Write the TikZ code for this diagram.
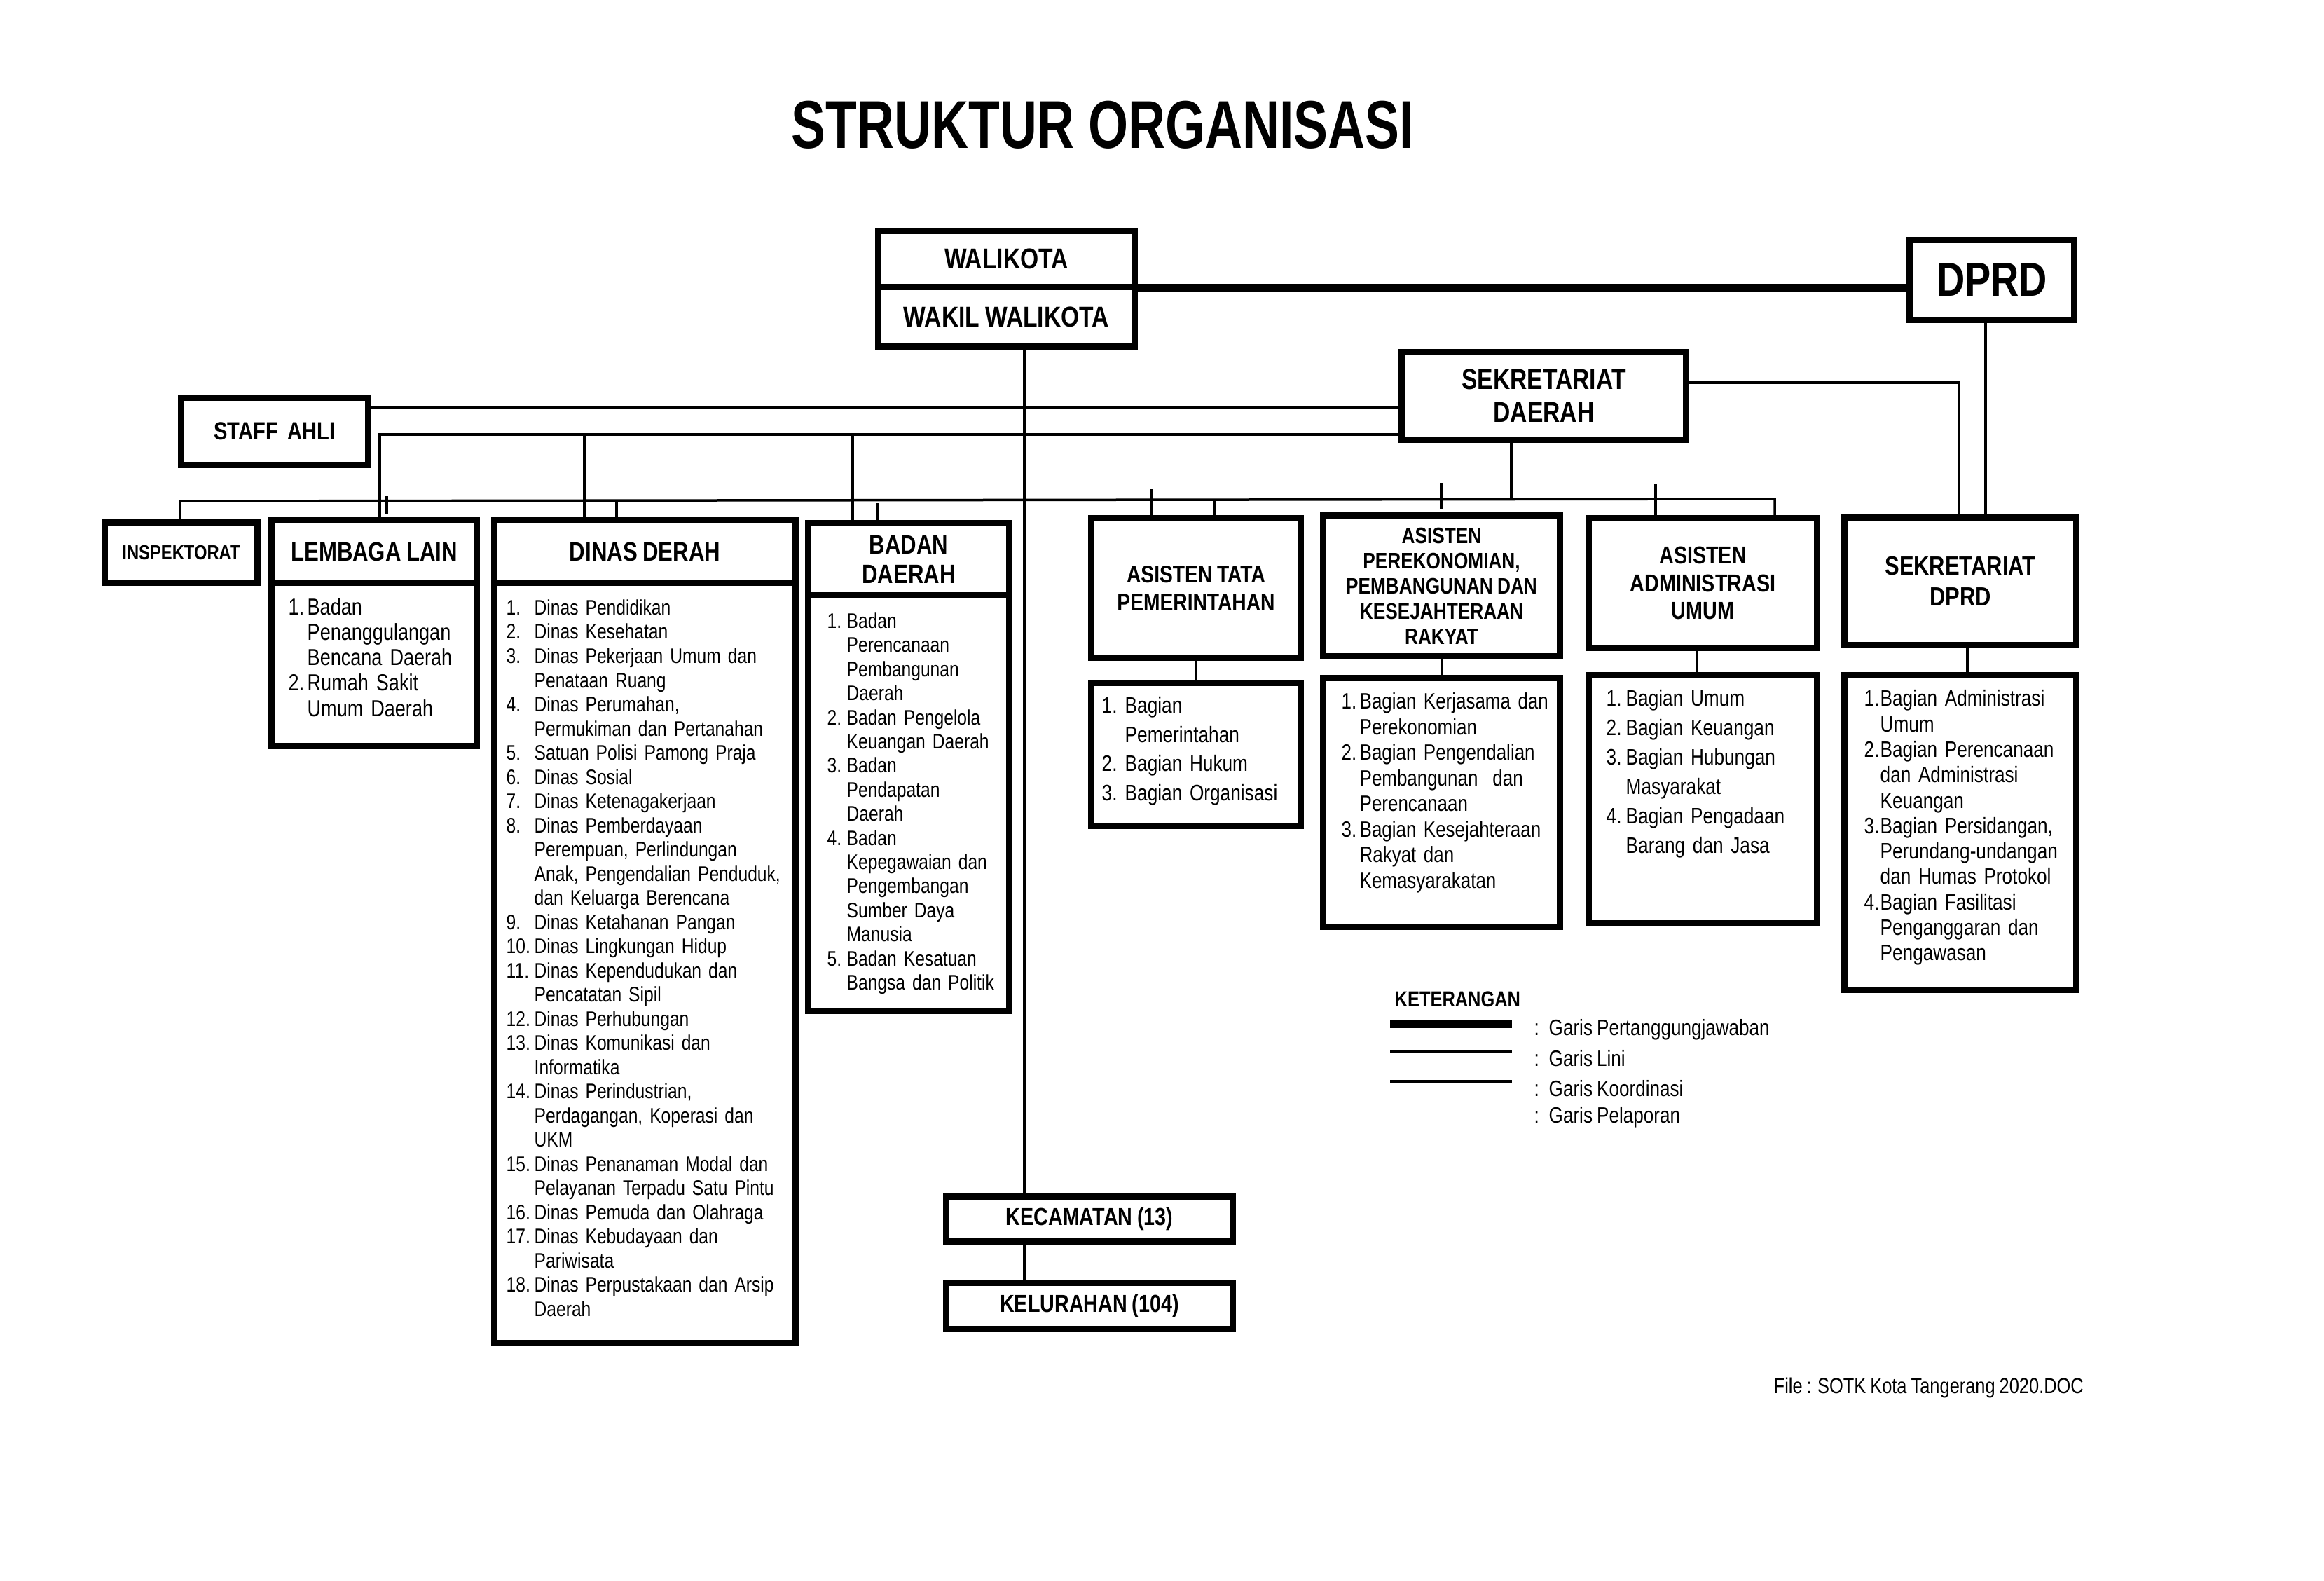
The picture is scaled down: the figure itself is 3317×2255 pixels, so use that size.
\documentclass[tikz,border=0pt]{standalone}
\usepackage{fontspec}
\setmainfont{Liberation Sans}
\newfontfamily\nf[FakeStretch=0.82,WordSpace=0.85]{Liberation Sans}
\newfontfamily\tf[FakeStretch=0.76]{Liberation Sans}
\newlength\nbw
\newcommand\nb[1]{\makebox[\nbw][l]{#1}}
\newcommand\cn{\hspace*{\nbw}}
\newcommand\fsz[2]{\fontsize{#1pt}{#2pt}\selectfont}
\begin{document}
\begin{tikzpicture}[x=0.1mm,y=-0.1mm,
  bx/.style={draw, line width=0.9mm, inner sep=0pt, align=center},
  ln/.style={line width=0.35mm},
  resp/.style={line width=1.2mm},
  lst/.style={anchor=north west, inner sep=0pt, align=left, text width=#1},
]
\useasboundingbox (0,0) rectangle (3317,2255);

% title
\node[font=\tf\bfseries\fsz{27.46}{30}] (title) at (1574,178) {STRUKTUR ORGANISASI};

% top boxes
\node[bx, minimum width=36.6mm, minimum height=8.0mm, font=\nf\bfseries\fsz{11.67}{13}] (walikota) at (1436.5,369.5) {WALIKOTA};
\node[bx, minimum width=36.6mm, minimum height=8.5mm, font=\nf\bfseries\fsz{11.67}{13}] (wakil) at (1436.5,452) {WAKIL WALIKOTA};
\node[bx, minimum width=23.5mm, minimum height=11.4mm, font=\nf\bfseries\fsz{19.35}{21}] (dprd) at (2843,399.5) {DPRD};
\node[bx, minimum width=40.6mm, minimum height=12.5mm, font=\nf\bfseries\fsz{11.67}{13.37}] (sekda) at (2203.5,565) {SEKRETARIAT\\DAERAH};
\node[bx, minimum width=26.7mm, minimum height=9.6mm, font=\nf\bfseries\fsz{10.1}{12}] (staff) at (392,615.5) {STAFF\ \ AHLI};

% second row
\node[bx, minimum width=21.8mm, minimum height=8.6mm, font=\nf\bfseries\fsz{8.25}{10}] (insp) at (258.5,788.5) {INSPEKTORAT};
\node[bx, minimum width=29.3mm, minimum height=8.9mm, font=\nf\bfseries\fsz{10.81}{12}] (lembaga) at (534,787) {LEMBAGA LAIN};
\node[bx, minimum width=29.3mm, minimum height=23.3mm] (lembagabody) at (534,948) {};
\node[bx, minimum width=43.0mm, minimum height=8.9mm, font=\nf\bfseries\fsz{10.81}{12}] (dinas) at (920.5,787) {DINAS DERAH};
\node[bx, minimum width=43.0mm, minimum height=108.5mm] (dinasbody) at (920.5,1374) {};
\node[bx, minimum width=28.7mm, minimum height=10.3mm, font=\nf\bfseries\fsz{10.81}{11.95}] (badan) at (1297,798) {BADAN\\DAERAH};
\node[bx, minimum width=28.7mm, minimum height=59.3mm] (badanbody) at (1297,1146) {};

\node[bx, minimum width=29.9mm, minimum height=19.9mm, font=\nf\bfseries\fsz{9.79}{11.38}] (tata) at (1707,839) {ASISTEN TATA\\PEMERINTAHAN};
\node[bx, minimum width=29.9mm, minimum height=20.4mm] (tatasub) at (1707,1076.5) {};
\node[bx, minimum width=33.8mm, minimum height=20.1mm, font=\nf\bfseries\fsz{9.1}{10.24}] (eko) at (2057.5,836) {ASISTEN\\PEREKONOMIAN,\\PEMBANGUNAN DAN\\KESEJAHTERAAN\\RAKYAT};
\node[bx, minimum width=33.8mm, minimum height=35.5mm] (ekosub) at (2057.5,1145) {};
\node[bx, minimum width=32.6mm, minimum height=18.5mm, font=\nf\bfseries\fsz{9.96}{11.24}] (admin) at (2430.5,832) {ASISTEN\\ADMINISTRASI\\UMUM};
\node[bx, minimum width=32.6mm, minimum height=35.4mm] (adminsub) at (2430.5,1140.5) {};
\node[bx, minimum width=33.1mm, minimum height=18.2mm, font=\nf\bfseries\fsz{10.73}{12.52}] (sekdprd) at (2798,829.5) {SEKRETARIAT\\DPRD};
\node[bx, minimum width=33.1mm, minimum height=44.9mm] (sekdprdsub) at (2798,1188) {};

\node[bx, minimum width=40.9mm, minimum height=6.4mm, font=\nf\bfseries\fsz{9.96}{11}] (kec) at (1555,1739.5) {KECAMATAN (13)};
\node[bx, minimum width=40.9mm, minimum height=6.6mm, font=\nf\bfseries\fsz{9.96}{11}] (kel) at (1555,1863.5) {KELURAHAN (104)};

% lists
\node[lst=40mm, font=\nf\fsz{9.39}{10.27}\setlength\nbw{2.7mm}] (lembagalist) at (411,853)
 {\nb{1.}Badan\\\cn Penanggulangan\\\cn Bencana Daerah\\\nb{2.}Rumah Sakit\\\cn Umum Daerah};
\node[lst=50mm, font=\nf\fsz{8.54}{9.82}\setlength\nbw{4.0mm}] (dinaslist) at (722,855)
 {\nb{1.}Dinas Pendidikan\\
  \nb{2.}Dinas Kesehatan\\
  \nb{3.}Dinas Pekerjaan Umum dan\\\cn Penataan Ruang\\
  \nb{4.}Dinas Perumahan,\\\cn Permukiman dan Pertanahan\\
  \nb{5.}Satuan Polisi Pamong Praja\\
  \nb{6.}Dinas Sosial\\
  \nb{7.}Dinas Ketenagakerjaan\\
  \nb{8.}Dinas Pemberdayaan\\\cn Perempuan, Perlindungan\\\cn Anak, Pengendalian Penduduk,\\\cn dan Keluarga Berencana\\
  \nb{9.}Dinas Ketahanan Pangan\\
  \nb{10.}Dinas Lingkungan Hidup\\
  \nb{11.}Dinas Kependudukan dan\\\cn Pencatatan Sipil\\
  \nb{12.}Dinas Perhubungan\\
  \nb{13.}Dinas Komunikasi dan\\\cn Informatika\\
  \nb{14.}Dinas Perindustrian,\\\cn Perdagangan, Koperasi dan\\\cn UKM\\
  \nb{15.}Dinas Penanaman Modal dan\\\cn Pelayanan Terpadu Satu Pintu\\
  \nb{16.}Dinas Pemuda dan Olahraga\\
  \nb{17.}Dinas Kebudayaan dan\\\cn Pariwisata\\
  \nb{18.}Dinas Perpustakaan dan Arsip\\\cn Daerah};
\node[lst=40mm, font=\nf\fsz{8.54}{9.79}\setlength\nbw{2.8mm}] (badanlist) at (1180,874)
 {\nb{1.}Badan\\\cn Perencanaan\\\cn Pembangunan\\\cn Daerah\\
  \nb{2.}Badan Pengelola\\\cn Keuangan Daerah\\
  \nb{3.}Badan\\\cn Pendapatan\\\cn Daerah\\
  \nb{4.}Badan\\\cn Kepegawaian dan\\\cn Pengembangan\\\cn Sumber Daya\\\cn Manusia\\
  \nb{5.}Badan Kesatuan\\\cn Bangsa dan Politik};
\node[lst=40mm, font=\nf\fsz{9.1}{11.81}\setlength\nbw{3.3mm}] (tatalist) at (1572,994)
 {\nb{1.}Bagian\\\cn Pemerintahan\\\nb{2.}Bagian Hukum\\\nb{3.}Bagian Organisasi};
\node[lst=40mm, font=\nf\fsz{9.0}{10.39}\setlength\nbw{2.6mm}] (ekolist) at (1914,988)
 {\nb{1.}Bagian Kerjasama dan\\\cn Perekonomian\\
  \nb{2.}Bagian Pengendalian\\\cn Pembangunan\ \ dan\\\cn Perencanaan\\
  \nb{3.}Bagian Kesejahteraan\\\cn Rakyat dan\\\cn Kemasyarakatan};
\node[lst=40mm, font=\nf\fsz{9.1}{11.95}\setlength\nbw{2.8mm}] (adminlist) at (2292,984)
 {\nb{1.}Bagian Umum\\\nb{2.}Bagian Keuangan\\\nb{3.}Bagian Hubungan\\\cn Masyarakat\\
  \nb{4.}Bagian Pengadaan\\\cn Barang dan Jasa};
\node[lst=40mm, font=\nf\fsz{9.08}{10.33}\setlength\nbw{2.3mm}] (sekdprdlist) at (2660,984)
 {\nb{1.}Bagian Administrasi\\\cn Umum\\
  \nb{2.}Bagian Perencanaan\\\cn dan Administrasi\\\cn Keuangan\\
  \nb{3.}Bagian Persidangan,\\\cn Perundang-undangan\\\cn dan Humas Protokol\\
  \nb{4.}Bagian Fasilitasi\\\cn Penganggaran dan\\\cn Pengawasan};

% helper coordinates
\coordinate (yR) at (0,411);
\coordinate (ySD) at (0,546);
\coordinate (ySA) at (0,582);
\coordinate (yB) at (0,620);
\coordinate (yBus) at (0,713);
\coordinate (xV) at (1462,0);
\coordinate (xD) at (2834,0);
\coordinate (xS) at (2796,0);
\coordinate (xL) at (542,0);
\coordinate (xK) at (2157,0);
\coordinate (bL) at (257,715);
\coordinate (bR) at (2533,712);
\coordinate (t1a) at (552,708);
\coordinate (t1b) at (552,733);
\coordinate (xDa) at (834,0);
\coordinate (xDb) at (880,0);
\coordinate (xBa) at (1217,0);
\coordinate (xBb) at (1253,718);
\coordinate (xTa) at (1644,698);
\coordinate (xTb) at (1733,0);
\coordinate (xEa) at (2057,689);
\coordinate (xEb) at (2057,726);
\coordinate (xAa) at (2363,691);
\coordinate (xAd) at (2422,0);
\coordinate (xSd) at (2808,0);

% connectors
\draw[resp] (walikota.east |- yR) -- (dprd.west |- yR);
\draw[ln] (wakil.south -| xV) -- (kec.north -| xV);
\draw[ln] (kec.south -| xV) -- (kel.north -| xV);
\draw[ln] (dprd.south -| xD) -- (sekdprd.north -| xD);
\draw[ln] (sekda.east |- ySD) -- (xS |- ySD) -- (sekdprd.north -| xS);
\draw[ln] (staff.east |- ySA) -- (sekda.west |- ySA);
\draw[ln] (sekda.west |- yB) -- (xL |- yB) -- (lembaga.north -| xL);
\draw[ln] (xDa |- yB) -- (dinas.north -| xDa);
\draw[ln] (xBa |- yB) -- (badan.north -| xBa);
\draw[ln] (sekda.south -| xK) -- (xK |- yBus);
\draw[ln] (insp.north -| bL) -- (bL) -- (bR) -- (admin.north -| bR);
\draw[ln] (t1a) -- (t1b);
\draw[ln] (xDb |- yBus) -- (dinas.north -| xDb);
\draw[ln] (xBb) -- (badan.north -| xBb);
\draw[ln] (xTa) -- (tata.north -| xTa);
\draw[ln] (xTb |- yBus) -- (tata.north -| xTb);
\draw[ln] (xEa) -- (xEb);
\draw[ln] (xAa) -- (admin.north -| xAa);
\draw[ln] (tata.south) -- (tatasub.north);
\draw[ln] (eko.south) -- (ekosub.north);
\draw[ln] (admin.south -| xAd) -- (adminsub.north -| xAd);
\draw[ln] (sekdprd.south -| xSd) -- (sekdprdsub.north -| xSd);

% legend
\node[anchor=west, inner sep=0pt, font=\nf\bfseries\fsz{8.82}{10}] (ket) at (1990,1426) {KETERANGAN};
\coordinate (l1a) at (1984,1461); \coordinate (l1b) at (2158,1461);
\coordinate (l2a) at (1984,1500); \coordinate (l2b) at (2158,1500);
\coordinate (l3a) at (1984,1543); \coordinate (l3b) at (2158,1543);
\draw[resp] (l1a) -- (l1b);
\draw[ln] (l2a) -- (l2b);
\draw[ln] (l3a) -- (l3b);
\node[anchor=west, inner sep=0pt, font=\nf\fsz{9.05}{10}] (g1) at (2189,1469) {\makebox[2.1mm][l]{:}Garis Pertanggungjawaban};
\node[anchor=west, inner sep=0pt, font=\nf\fsz{9.05}{10}] (g2) at (2189,1510) {\makebox[2.1mm][l]{:}Garis Lini};
\node[anchor=west, inner sep=0pt, font=\nf\fsz{9.05}{10}] (g3) at (2189,1553) {\makebox[2.1mm][l]{:}Garis Koordinasi};
\node[anchor=west, inner sep=0pt, font=\nf\fsz{9.05}{10}] (g4) at (2189,1594) {\makebox[2.1mm][l]{:}Garis Pelaporan};

% footer
\node[anchor=west, inner sep=0pt, font=\nf\fsz{8.82}{10}] (file) at (2531,1980) {File : SOTK Kota Tangerang 2020.DOC};
\end{tikzpicture}
\end{document}
